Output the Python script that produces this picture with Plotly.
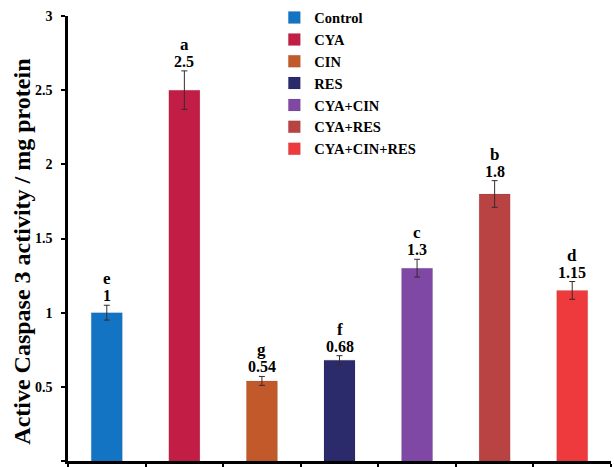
import plotly.graph_objects as go

groups = ["Control", "CYA", "CIN", "RES", "CYA+CIN", "CYA+RES", "CYA+CIN+RES"]
means = [1.0, 2.5, 0.54, 0.68, 1.3, 1.8, 1.15]
errors = [0.05, 0.13, 0.03, 0.03, 0.06, 0.09, 0.06]
letters = ["e", "a", "g", "f", "c", "b", "d"]
value_labels = ["1", "2.5", "0.54", "0.68", "1.3", "1.8", "1.15"]
colors = ["#1274C2", "#C21E45", "#C2592A", "#2B2A6B", "#7E48A4", "#B94242", "#EE3A3C"]

FONT = "Liberation Serif"

fig = go.Figure()
for g, m, e, c in zip(groups, means, errors, colors):
    fig.add_trace(go.Bar(
        x=[g], y=[m], name=g, width=0.4,
        marker=dict(color=c, line=dict(color="rgba(0,0,0,0.15)", width=0.5)),
        error_y=dict(type="data", array=[e], color="#3a2a2a", thickness=1, width=3),
    ))

annotations = []
for g, m, e, lt, vl in zip(groups, means, errors, letters, value_labels):
    annotations.append(dict(x=g, y=m + e, text=vl, showarrow=False,
                            yanchor="bottom", yshift=-1,
                            font=dict(family=FONT, size=16, color="black", weight="bold")))
    annotations.append(dict(x=g, y=m + e, text=lt, showarrow=False,
                            yanchor="bottom", yshift=15,
                            font=dict(family=FONT, size=17, color="black", weight="bold")))

# y-axis title, drawn as a rotated label sitting slightly below the plot centre
annotations.append(dict(
    text="Active Caspase 3 activity / mg protein", textangle=-90,
    xref="paper", yref="paper", x=-0.085, y=0.47,
    xanchor="center", yanchor="middle", showarrow=False,
    font=dict(family=FONT, size=24, color="black", weight="bold"),
))

fig.update_layout(
    width=614, height=467,
    margin=dict(l=68, r=3, t=15, b=6),
    plot_bgcolor="white", paper_bgcolor="white",
    barmode="overlay",
    showlegend=True,
    legend=dict(x=0.38, y=1.03, xanchor="left", yanchor="top",
                font=dict(family=FONT, size=14.5, color="black", weight="bold"),
                bgcolor="rgba(0,0,0,0)", tracegroupgap=0, itemwidth=30),
    annotations=annotations,
    font=dict(family=FONT, color="black"),
)
fig.update_xaxes(
    showticklabels=False, ticks="outside", tickson="boundaries", ticklen=4,
    tickwidth=2, tickcolor="black",
    showline=True, linecolor="black", linewidth=2.5, showgrid=False,
    range=[-0.5, 6.5],
)
fig.update_yaxes(
    range=[0, 3], dtick=0.5, ticks="outside", ticklen=4, tickwidth=2, tickcolor="black",
    showline=True, linecolor="black", linewidth=2.5, showgrid=False, zeroline=False,
    tickfont=dict(family=FONT, size=14, color="black", weight="bold"),
    ticklabelstandoff=6,
    tickformat="~g",
)

fig.write_html("out.html")
